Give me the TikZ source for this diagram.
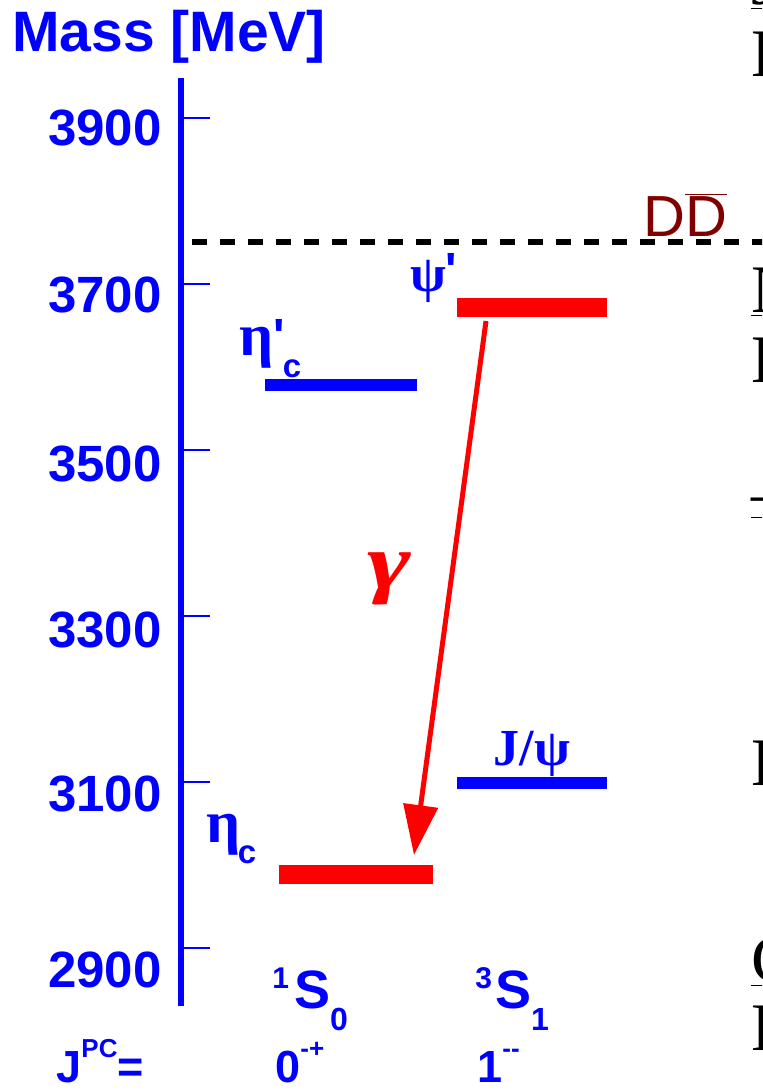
\documentclass[tikz,border=0pt]{standalone}
\usepackage{fontspec}
\setmainfont{Liberation Serif}
\setsansfont{Liberation Sans}
\usetikzlibrary{arrows.meta}
\definecolor{ddred}{RGB}{128,0,0}

\begin{document}
\begin{tikzpicture}[x=0.5pt, y=-0.5pt,
  tick/.style={blue, line width=1pt},
  axlbl/.style={blue, font=\sffamily\bfseries\fontsize{25.5}{30}\selectfont, inner sep=0, anchor=base east},
  greek/.style={blue, font=\bfseries\fontsize{26}{30}\selectfont, inner sep=0},
  sub/.style={blue, font=\sffamily\bfseries\fontsize{16.5}{20}\selectfont, inner sep=0},
  prm/.style={blue, font=\sffamily\bfseries\fontsize{24}{28}\selectfont, inner sep=0},
  qn/.style={blue, font=\sffamily\bfseries\fontsize{22.5}{26}\selectfont, inner sep=0, anchor=base west},
  edgetxt/.style={black, font=\fontsize{34}{40}\selectfont, inner sep=0, anchor=base west},
]

  \path[use as bounding box, clip] (0,0) rectangle (762,1090);

  % Mass axis
  \def\ytop{118}
  \def\mev{0.83}
  \coordinate (ax0) at (181,78);
  \coordinate (ax1) at (181,1006);
  \draw[blue, line width=3pt] (ax0) -- (ax1);
  \node[blue, font=\sffamily\bfseries\fontsize{28.5}{34}\selectfont, inner sep=0, anchor=base west]
    (title) at (12,52) {Mass [MeV]};

  % Ticks and labels
  \foreach \m/\ly in {3900/146, 3700/313, 3500/481, 3300/647, 3100/811, 2900/987} {
    \draw[tick] (182,{\ytop+(3900-\m)*\mev}) -- ++(28,0);
    \node[axlbl] (m\m) at (162,\ly) {\m};
  }

  % DD threshold
  \coordinate (dd0) at (192,242);
  \coordinate (dd1) at (770,242);
  \draw[line width=2.75pt, dash pattern=on 7.5pt off 6.5pt] (dd0) -- (dd1);
  \node[ddred, font=\sffamily\fontsize{29}{34}\selectfont, inner sep=0, anchor=base west]
    (ddbar) at (643,237) {D$\overline{\hbox{D}}$};

  % Levels
  \fill[red]  (457,298) rectangle (607,317);  % psi'
  \fill[blue] (265,379) rectangle (417,391);  % eta_c'
  \fill[blue] (457,777) rectangle (607,789);  % J/psi
  \fill[red]  (279,865) rectangle (433,884);  % eta_c

  % Photon transition
  \coordinate (g0) at (486,321);
  \coordinate (g1) at (414,855);
  \draw[red, line width=2.5pt, -{Triangle[length=25pt, width=17pt]}] (g0) -- (g1);
  \node[red, inner sep=0, font=\bfseries\itshape\fontsize{39}{44}\selectfont] (gam) at (389,579)
    {\scalebox{1.35}[1]{γ}};

  % Level names
  \node[greek] (psip) at (428,281) {ψ};
  \node[prm] (psipp) at (451,270) {\textquotesingle};
  \node[greek, font=\bfseries\fontsize{30}{34}\selectfont] (etap) at (257,348) {η};
  \node[prm] (etapp) at (279,336) {\textquotesingle};
  \node[sub] (etapc) at (292,369) {c};
  \node[greek] (jpsi) at (532,754) {J/ψ};
  \node[greek, font=\bfseries\fontsize{30}{34}\selectfont] (eta) at (224,835) {η};
  \node[sub] (etac) at (247,855) {c};

  % Quantum numbers
  \node[qn, font=\sffamily\bfseries\fontsize{27}{30}\selectfont] (s0) at (272,1008)
    {\raisebox{10pt}{\fontsize{15}{17}\selectfont 1}\hspace{2.5pt}S\raisebox{-11pt}{\fontsize{16}{18}\selectfont 0}};
  \node[qn, font=\sffamily\bfseries\fontsize{27}{30}\selectfont] (s1) at (475,1008)
    {\raisebox{10pt}{\fontsize{15}{17}\selectfont 3}\hspace{1.5pt}S\raisebox{-11pt}{\fontsize{16}{18}\selectfont 1}};
  \node[qn] (jpc) at (56,1082) {J\raisebox{12.5pt}{\fontsize{13}{15}\selectfont PC}=};
  \node[qn] (jpc0) at (275,1082) {0\raisebox{12.5pt}{\fontsize{13}{15}\selectfont -+}};
  \node[qn] (jpc1) at (477,1082) {1\raisebox{12.5pt}{\fontsize{13}{15}\selectfont -{}-}};

  % Text cut at the right edge
  \node[edgetxt] (e1) at (751,5) {\underline{J}};
  \node[edgetxt] (e2) at (751,77) {D};
  \node[edgetxt] (e3) at (751,313) {\underline{N}};
  \node[edgetxt] (e4) at (751,383) {D};
  \node[edgetxt] (e5) at (751,515) {\underline{–}};
  \node[edgetxt] (e6) at (751,785) {D};
  \node[edgetxt] (e7) at (751,982) {\underline{C}};
  \node[edgetxt] (e8) at (751,1050) {D};

\end{tikzpicture}
\end{document}
